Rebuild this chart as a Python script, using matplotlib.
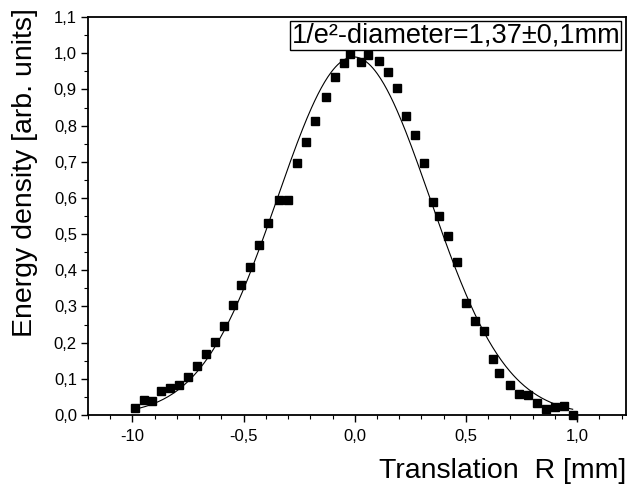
import numpy as np
import matplotlib
matplotlib.use("Agg")
import matplotlib.pyplot as plt
from matplotlib.ticker import FixedLocator, MultipleLocator

plt.rcParams['font.family'] = ['Liberation Sans', 'DejaVu Sans']

# Measured beam profile: translation R [mm] vs. normalised energy density
translation_mm = [-0.99, -0.95, -0.91, -0.87, -0.83, -0.79, -0.75, -0.71, -0.67, -0.63,
                  -0.59, -0.55, -0.51, -0.47, -0.43, -0.39, -0.34, -0.30, -0.26, -0.22,
                  -0.18, -0.13, -0.09, -0.05, -0.02, 0.03, 0.06, 0.11, 0.15, 0.19,
                  0.23, 0.27, 0.31, 0.35, 0.38, 0.42, 0.46, 0.50, 0.54, 0.58,
                  0.62, 0.65, 0.70, 0.74, 0.78, 0.82, 0.86, 0.90, 0.94, 0.98]
energy_density = [0.020, 0.041, 0.040, 0.066, 0.075, 0.083, 0.105, 0.135, 0.168, 0.202,
                  0.246, 0.304, 0.359, 0.409, 0.470, 0.530, 0.594, 0.594, 0.698, 0.756,
                  0.814, 0.878, 0.934, 0.972, 0.997, 0.977, 0.995, 0.980, 0.947, 0.903,
                  0.826, 0.773, 0.698, 0.590, 0.550, 0.496, 0.423, 0.309, 0.260, 0.232,
                  0.155, 0.116, 0.083, 0.058, 0.055, 0.033, 0.017, 0.022, 0.025, 0.000]

# Gaussian fit parameters (1/e^2 diameter as stated in the annotation)
fit_amplitude = 0.99
fit_center = -0.005
fit_diameter = 1.37

x_ticks = [-1.0, -0.5, 0.0, 0.5, 1.0]
x_tick_labels = ["-10", "-0,5", "0,0", "0,5", "1,0"]
y_ticks = [0.0, 0.1, 0.2, 0.3, 0.4, 0.5, 0.6, 0.7, 0.8, 0.9, 1.0, 1.1]
y_tick_labels = ["0,0", "0,1", "0,2", "0,3", "0,4", "0,5", "0,6", "0,7", "0,8", "0,9", "1,0", "1,1"]

fig = plt.figure(figsize=(6.39, 4.84), dpi=100)
ax = fig.add_axes([0.1377, 0.1426, 0.842, 0.822])

w = fit_diameter / 2.0
r_fit = np.linspace(min(translation_mm), max(translation_mm), 400)
e_fit = fit_amplitude * np.exp(-2.0 * (r_fit - fit_center) ** 2 / w ** 2)
ax.plot(r_fit, e_fit, color='black', lw=0.8, zorder=2)

ax.plot(translation_mm, energy_density, linestyle='none', marker='s',
        markersize=6.4, color='black', clip_on=False, zorder=3)

ax.set_xlim(-1.2, 1.22)
ax.set_ylim(0.0, 1.1)

ax.xaxis.set_major_locator(FixedLocator(x_ticks))
ax.set_xticklabels(x_tick_labels)
ax.xaxis.set_minor_locator(MultipleLocator(0.1))
ax.yaxis.set_major_locator(FixedLocator(y_ticks))
ax.set_yticklabels(y_tick_labels)
ax.yaxis.set_minor_locator(MultipleLocator(0.05))

ax.tick_params(which='major', direction='out', length=5, width=1.0,
               labelsize=12, pad=3, top=False, right=False)
ax.tick_params(axis='x', which='major', pad=5)
ax.tick_params(which='minor', direction='out', length=3, width=0.8,
               top=False, right=False)

for side, spine in ax.spines.items():
    spine.set_linewidth(1.3)
    spine.set_color('black')

ax.set_xlabel("Translation  R [mm]", fontsize=20.5)
ax.xaxis.set_label_coords(1.0, -0.158)
ax.xaxis.label.set_horizontalalignment('right')
ax.xaxis.label.set_verticalalignment('baseline')
ax.set_ylabel("Energy density [arb. units]", fontsize=20.5)
ax.yaxis.set_label_coords(-0.104, 1.023)
ax.yaxis.label.set_verticalalignment('baseline')
ax.yaxis.label.set_horizontalalignment('right')

ax.text(0.989, 0.987, "1/e²-diameter=1,37±0,1mm", transform=ax.transAxes,
        ha='right', va='top', fontsize=19.5,
        bbox=dict(boxstyle='square,pad=0.05', facecolor='white',
                  edgecolor='black', linewidth=1.0))

fig.savefig("out.png", dpi=100)
